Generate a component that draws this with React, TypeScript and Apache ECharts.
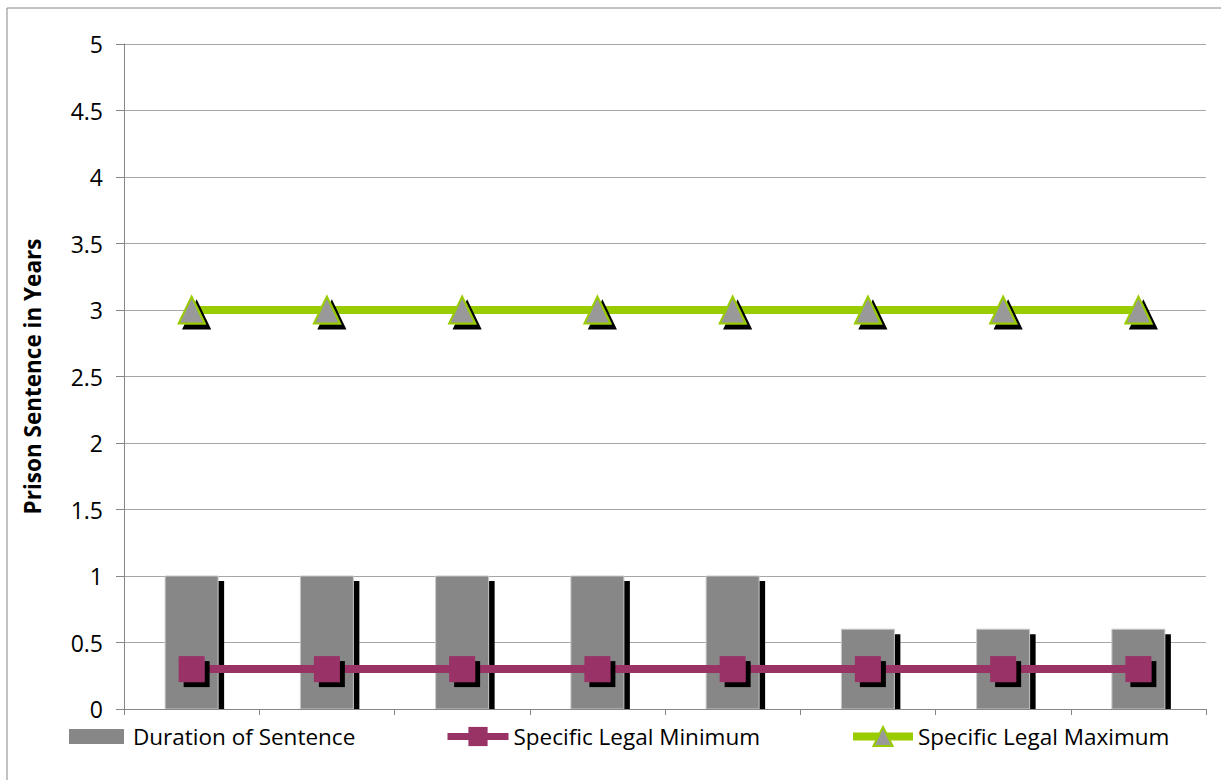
import React, { useEffect, useRef } from "react";
import * as echarts from "echarts";

const categories = ["1", "2", "3", "4", "5", "6", "7", "8"];
const durationValues = [1, 1, 1, 1, 1, 0.6, 0.6, 0.6];
const legalMinimum = [0.3, 0.3, 0.3, 0.3, 0.3, 0.3, 0.3, 0.3];
const legalMaximum = [3, 3, 3, 3, 3, 3, 3, 3];
const seriesNames = ["Duration of Sentence", "Specific Legal Minimum", "Specific Legal Maximum"];
const yAxisTitle = "Prison Sentence in Years";

const FONT = "'Open Sans', sans-serif";
const BAR_W = 53;

export default function App() {
  const ref = useRef<HTMLDivElement>(null);
  useEffect(() => {
    if (!ref.current) return;
    const chart = echarts.init(ref.current, undefined, { renderer: "svg" });
    const legendText = { fontSize: 22.5, color: "#000", fontFamily: FONT };
    chart.setOption({
      animation: false,
      backgroundColor: "#fff",
      graphic: [
        {
          type: "rect",
          shape: { x: 7, y: 8, width: 1230, height: 790 },
          style: { fill: "none", stroke: "#868686", lineWidth: 1 },
          silent: true,
        },
      ],
      grid: { left: 124, top: 44, right: 15, bottom: 71, containLabel: false },
      legend: [
        {
          data: [{ name: seriesNames[0], icon: "rect" }],
          left: 64,
          top: 720,
          itemWidth: 55,
          itemHeight: 15,
          textStyle: { ...legendText, padding: [0, 0, 0, 4] },
        },
        {
          data: [seriesNames[1]],
          left: 439,
          top: 720,
          itemWidth: 61,
          itemHeight: 24,
          lineStyle: { width: 7 },
          textStyle: legendText,
        },
        {
          data: [seriesNames[2]],
          left: 844,
          top: 720,
          itemWidth: 60,
          itemHeight: 24,
          lineStyle: { width: 8 },
          textStyle: legendText,
        },
      ],
      xAxis: {
        type: "category",
        data: categories,
        boundaryGap: true,
        axisLine: { show: true, lineStyle: { color: "#868686", width: 1 } },
        axisTick: { show: true, length: 6, alignWithLabel: false, lineStyle: { color: "#868686" } },
        axisLabel: { show: false },
        splitLine: { show: false },
        z: 5,
      },
      yAxis: {
        type: "value",
        min: 0,
        max: 5,
        interval: 0.5,
        name: yAxisTitle,
        nameLocation: "middle",
        nameGap: 80,
        nameTextStyle: { fontFamily: FONT, fontWeight: "bold", fontSize: 22.5, color: "#000" },
        axisLine: { show: true, lineStyle: { color: "#868686", width: 1 } },
        axisTick: { show: true, length: 8, lineStyle: { color: "#868686" } },
        axisLabel: { fontFamily: FONT, fontSize: 23, color: "#000", margin: 21 },
        splitLine: { show: true, lineStyle: { color: "#a6a6a6", width: 1 } },
      },
      series: [
        {
          name: seriesNames[0],
          type: "custom",
          data: durationValues.map((v, i) => [i, v]),
          encode: { x: 0, y: 1 },
          itemStyle: { color: "#878787" },
          renderItem: (params: any, api: any) => {
            const idx = api.value(0);
            const val = api.value(1);
            const top = api.coord([idx, val]);
            const base = api.coord([idx, 0]);
            const h = base[1] - top[1];
            return {
              type: "group",
              children: [
                {
                  type: "rect",
                  shape: { x: top[0] - BAR_W / 2 + 6, y: top[1] + 5, width: BAR_W, height: h - 5 },
                  style: { fill: "#000" },
                },
                {
                  type: "rect",
                  shape: { x: top[0] - BAR_W / 2, y: top[1], width: BAR_W, height: h },
                  style: { fill: "#878787", stroke: "#c8c8c8", lineWidth: 1 },
                },
              ],
            };
          },
          z: 2,
        },
        {
          name: seriesNames[1],
          type: "line",
          data: legalMinimum,
          symbol: "rect",
          symbolSize: 26,
          lineStyle: { color: "#993366", width: 8 },
          itemStyle: {
            color: "#993366",
            shadowColor: "#000",
            shadowBlur: 0,
            shadowOffsetX: 5,
            shadowOffsetY: 5,
          },
          z: 3,
        },
        {
          name: seriesNames[2],
          type: "line",
          data: legalMaximum,
          symbol: "triangle",
          symbolSize: [26, 27],
          lineStyle: { color: "#99cc00", width: 8 },
          itemStyle: {
            color: "#999999",
            borderColor: "#99cc00",
            borderWidth: 2,
            shadowColor: "#000",
            shadowBlur: 0,
            shadowOffsetX: 5,
            shadowOffsetY: 5,
          },
          z: 4,
        },
      ],
    });
    return () => chart.dispose();
  }, []);
  return (
    <div
      ref={ref}
      style={{ position: "fixed", left: 0, top: 0, width: 1221, height: 780, background: "#fff" }}
    />
  );
}
